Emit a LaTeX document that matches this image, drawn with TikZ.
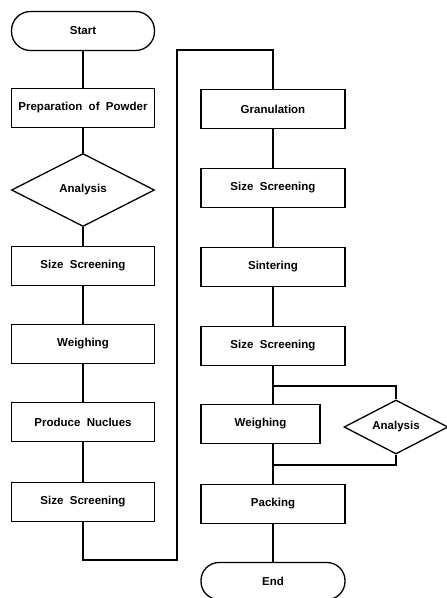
\documentclass[tikz,border=0pt]{standalone}
\usepackage{fontspec}
\setmainfont{Liberation Sans}
\usepackage{tikz}
\usetikzlibrary{shapes,shapes.geometric,positioning,calc}

\begin{document}
\begin{tikzpicture}[x=1pt, y=-1pt,
    step_box/.style={draw=black, fill=white, line width=1.3pt, minimum width=143pt, minimum height=39pt, inner sep=0pt, align=center, font=\fontsize{11.5}{13}\selectfont\bfseries},
    term_box/.style={step_box, rounded corners=19pt},
    test_box/.style={draw=black, fill=white, diamond, aspect=2, line width=1.3pt, inner sep=0pt, font=\fontsize{11.5}{13}\selectfont\bfseries},
    flow/.style={draw=black, line width=1.3pt}
]
    \useasboundingbox (0,0) rectangle (447,598);

    % Nodes (left column)
    \node[term_box] (start) at (83,31) {Start};
    \node[step_box] (prep) at (83,108) {Preparation\ \ of\ \ Powder};
    \node[test_box, minimum width=143pt, minimum height=73pt] (analysis_a) at (83,190) {Analysis};
    \node[step_box] (screen_a) at (83,266) {Size\ \ Screening};
    \node[step_box] (weigh_a) at (83,344) {Weighing};
    \node[step_box] (nucleus) at (83,422) {Produce\ \ Nuclues};
    \node[step_box] (screen_b) at (83,502) {Size\ \ Screening};

    % Nodes (right column)
    \node[step_box, minimum width=144pt] (granul) at (273,109) {Granulation};
    \node[step_box, minimum width=144pt] (screen_c) at (273,188) {Size\ \ Screening};
    \node[step_box, minimum width=144pt] (sinter) at (273,267) {Sintering};
    \node[step_box, minimum width=144pt] (screen_d) at (273,346) {Size\ \ Screening};
    \node[step_box, minimum width=119pt] (weigh_b) at (260.5,424) {Weighing};
    \node[test_box, minimum width=104pt, minimum height=54pt] (analysis_b) at (396,427) {Analysis};
    \node[step_box, minimum width=144pt] (packing) at (273,504) {Packing};
    \node[term_box, minimum width=144pt, minimum height=37pt, rounded corners=18pt] (finish) at (273,581) {End};

    % Corner points
    \coordinate (low_turn) at (177,560);
    \coordinate (high_turn) at (177,50);
    \coordinate (split) at (273,386);
    \coordinate (merge) at (273,465);

    % Transitions
    \draw[flow] (start) -- (prep);
    \draw[flow] (prep) -- (analysis_a);
    \draw[flow] (analysis_a) -- (screen_a);
    \draw[flow] (screen_a) -- (weigh_a);
    \draw[flow] (weigh_a) -- (nucleus);
    \draw[flow] (nucleus) -- (screen_b);
    \draw[flow] (screen_b.south) |- (low_turn) -- (high_turn) -| (granul.north);
    \draw[flow] (granul) -- (screen_c);
    \draw[flow] (screen_c) -- (sinter);
    \draw[flow] (sinter) -- (screen_d);
    \draw[flow] (screen_d.south) -- (screen_d.south |- weigh_b.north);
    \draw[flow] (split) -| (analysis_b.north);
    \draw[flow] (analysis_b.south) |- (merge);
    \draw[flow] (packing.north |- weigh_b.south) -- (packing.north);
    \draw[flow] (packing) -- (finish);
\end{tikzpicture}
\end{document}
